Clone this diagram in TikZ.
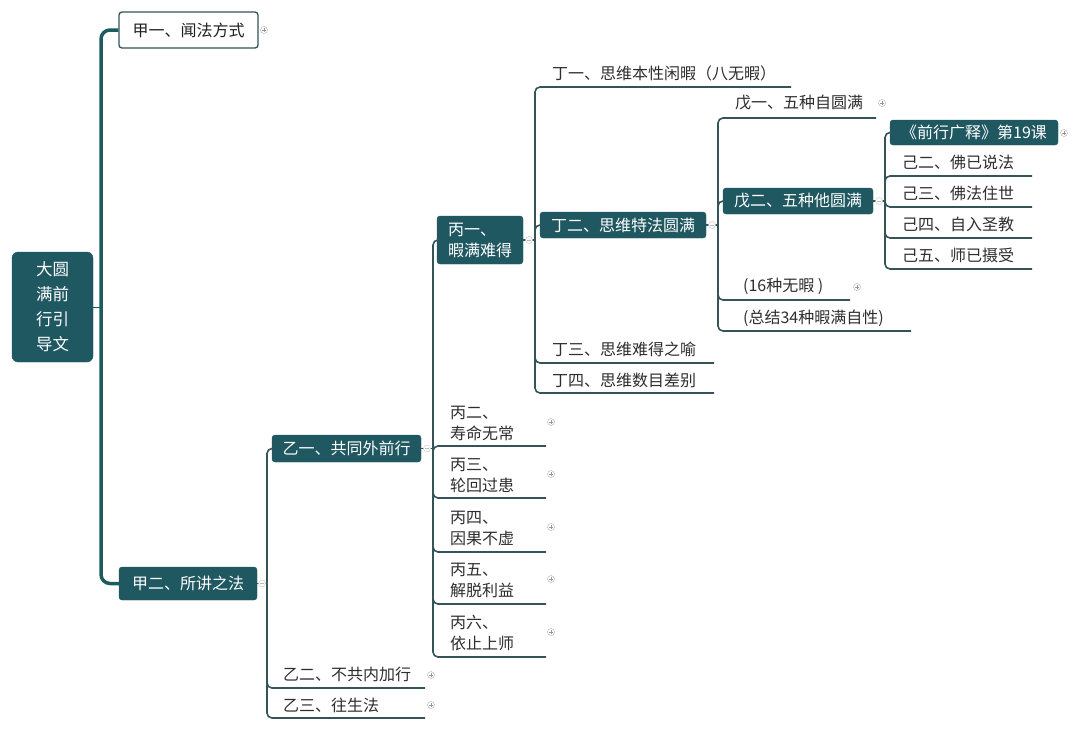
\documentclass[tikz,border=0pt]{standalone}
\usepackage{fontspec}
\setmainfont{Noto Sans CJK SC}
\definecolor{teal1}{RGB}{31,88,97}
\definecolor{ln}{RGB}{52,84,89}
\definecolor{trunkc}{RGB}{28,92,94}
\begin{document}
\begin{tikzpicture}[x=1pt,y=-1pt,
  txt/.style={font=\fontsize{16}{21}\selectfont},
  box/.style={txt, draw=teal1, fill=teal1, rounded corners=3pt, text=white, inner sep=0pt},
  wbox/.style={txt, draw=ln, fill=white, line width=1.3pt, rounded corners=3pt, text=black!88, inner sep=0pt},
  leaf/.style={txt, anchor=west, inner sep=0pt, text=black!82, align=left},
  con/.style={draw=ln, line width=1.6pt, rounded corners=5pt},
  trunkline/.style={draw=trunkc, line width=3.5pt, rounded corners=9pt},
  plus/.style={circle, draw=gray!65, line width=0.4pt, fill=white, minimum size=7pt, inner sep=0pt,
    path picture={\draw[gray!80, line width=0.5pt] (path picture bounding box.center) ++(-2pt,0) -- ++(4pt,0)
      (path picture bounding box.center) ++(0,-2pt) -- ++(0,4pt);}},
  fold/.style={circle, draw=gray!45, line width=0.4pt, fill=white, minimum size=7pt, inner sep=0pt,
    path picture={\draw[gray!55, line width=0.5pt] (path picture bounding box.center) ++(-2pt,0) -- ++(4pt,0);}}
]
\useasboundingbox[fill=white] (0,0) rectangle (1080,732);

% nodes
\node[box, rounded corners=6pt, minimum width=81, minimum height=110, align=center, font=\fontsize{16.5}{25}\selectfont] (root) at (52.5,307) {大圆\\满前\\行引\\导文};
\node[wbox, minimum width=139, minimum height=36] (a1) at (188.5,30) {甲一、闻法方式};
\node[box, minimum width=138, minimum height=33] (a2) at (188,583.5) {甲二、所讲之法};

\node[box, minimum width=149, minimum height=27] (b1) at (346.5,448.5) {乙一、共同外前行};
\node[leaf] (b2) at (283,674) {乙二、不共内加行};
\node[leaf] (b3) at (283,705) {乙三、往生法};

\node[box, minimum width=86, minimum height=48, align=left] (c1) at (480,240) {丙一、\\暇满难得};
\node[leaf] (c2) at (450,423) {丙二、\\寿命无常};
\node[leaf] (c3) at (450,475) {丙三、\\轮回过患};
\node[leaf] (c4) at (450,528) {丙四、\\因果不虚};
\node[leaf] (c5) at (450,580) {丙五、\\解脱利益};
\node[leaf] (c6) at (450,633) {丙六、\\依止上师};

\node[leaf] (d1) at (552,73) {丁一、思维本性闲暇（八无暇）};
\node[box, minimum width=166, minimum height=26] (d2) at (623,225) {丁二、思维特法圆满};
\node[leaf] (d3) at (552,349) {丁三、思维难得之喻};
\node[leaf] (d4) at (552,380) {丁四、思维数目差别};

\node[leaf] (e1) at (735,103) {戊一、五种自圆满};
\node[box, minimum width=150, minimum height=26] (e2) at (798,201) {戊二、五种他圆满};
\node[leaf] (e3) at (743,286) {(16种无暇 )};
\node[leaf] (e4) at (743,318) {(总结34种暇满自性)};

\node[box, minimum width=168, minimum height=25] (f1) at (974,132.5) {《前行广释》第19课};
\node[leaf] (f2) at (902,162) {己二、佛已说法};
\node[leaf] (f3) at (902,193) {己三、佛法住世};
\node[leaf] (f4) at (902,224) {己四、自入圣教};
\node[leaf] (f5) at (902,255) {己五、师已摄受};

% junctions and underline ends
\coordinate (jr) at (101,307);
\coordinate (ja) at (267,583.5);
\coordinate (jb) at (433,448.5);
\coordinate (jc) at (535,240);
\coordinate (jd) at (718,225);
\coordinate (je) at (885,201);

\coordinate (b2u) at (425,688);
\coordinate (b3u) at (425,718);
\coordinate (c2u) at (546,446);
\coordinate (c3u) at (546,498);
\coordinate (c4u) at (546,552);
\coordinate (c5u) at (546,604);
\coordinate (c6u) at (546,657);
\coordinate (d1u) at (791,87);
\coordinate (d3u) at (714,363);
\coordinate (d4u) at (714,393);
\coordinate (e1u) at (876,118);
\coordinate (e3u) at (850,300);
\coordinate (e4u) at (911,331);
\coordinate (f2u) at (1032,176);
\coordinate (f3u) at (1032,207);
\coordinate (f4u) at (1032,238);
\coordinate (f5u) at (1032,269);

% connectors
\draw[draw=trunkc, line width=1pt] (root.east) -- (jr);
\draw[trunkline] (jr) |- (a1.west);
\draw[trunkline] (jr) |- (a2.west);

\draw[con] (a2.east) -- (ja);
\draw[con] (ja) |- (b1.west);
\draw[con] (ja) |- (b2u);
\draw[con] (ja) |- (b3u);

\draw[con] (b1.east) -- (jb);
\draw[con] (jb) |- (c1.west);
\draw[con] (jb) |- (c2u);
\draw[con] (jb) |- (c3u);
\draw[con] (jb) |- (c4u);
\draw[con] (jb) |- (c5u);
\draw[con] (jb) |- (c6u);

\draw[con] (c1.east) -- (jc);
\draw[con] (jc) |- (d1u);
\draw[con] (jc) |- (d2.west);
\draw[con] (jc) |- (d3u);
\draw[con] (jc) |- (d4u);

\draw[con] (d2.east) -- (jd);
\draw[con] (jd) |- (e1u);
\draw[con] (jd) |- (e2.west);
\draw[con] (jd) |- (e3u);
\draw[con] (jd) |- (e4u);

\draw[con] (e2.east) -- (je);
\draw[con] (je) |- (f1.west);
\draw[con] (je) |- (f2u);
\draw[con] (je) |- (f3u);
\draw[con] (je) |- (f4u);
\draw[con] (je) |- (f5u);

% fold markers
\node[fold] (fa) at (262,583.5) {};
\node[fold] (fb) at (427,448.5) {};
\node[fold] (fc) at (529,240) {};
\node[fold] (fd) at (712,225) {};
\node[fold] (fe) at (879,201) {};

% plus markers
\node[plus] (pa1) at (264,30) {};
\node[plus] (pb2) at (431,675) {};
\node[plus] (pb3) at (431,705) {};
\node[plus] (pc2) at (551,422) {};
\node[plus] (pc3) at (551,474) {};
\node[plus] (pc4) at (551,527) {};
\node[plus] (pc5) at (551,579) {};
\node[plus] (pc6) at (551,632) {};
\node[plus] (pe1) at (882,103) {};
\node[plus] (pe3) at (857,287) {};
\node[plus] (pf1) at (1064,133) {};
\end{tikzpicture}
\end{document}
